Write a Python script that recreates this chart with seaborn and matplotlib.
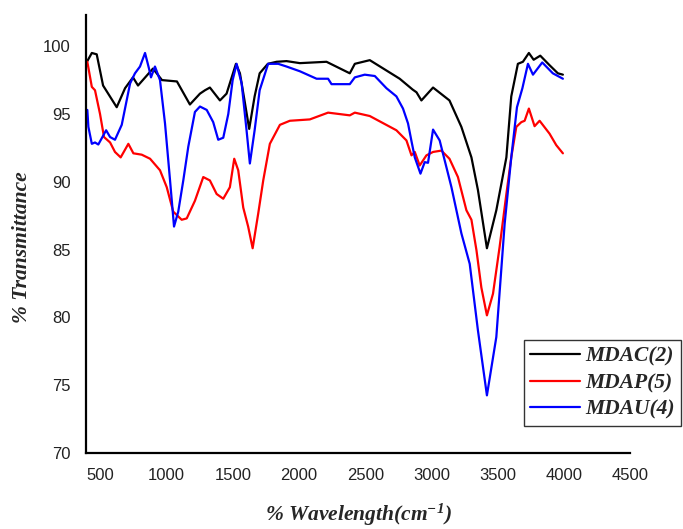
import pandas as pd
import seaborn as sns
import matplotlib.pyplot as plt

# FT-IR spectra
mdac_x = [400, 434, 471, 519, 622, 685, 745, 783, 896, 964, 1077, 1175, 1251, 1289,
          1326, 1402, 1452, 1523, 1553, 1591, 1623, 1664, 1702, 1764, 1830, 1905,
          2006, 2207, 2383, 2421, 2534, 2760, 2858, 2887, 2924, 3012, 3136, 3226,
          3302, 3351, 3419, 3490, 3566, 3603, 3653, 3691, 3736, 3772, 3822, 3892,
          3955, 3993]
mdac_y = [98.9, 99.5, 99.4, 97.1, 95.5, 96.9, 97.7, 97.1, 98.35, 97.5, 97.4, 95.7, 96.5, 96.75,
          96.95, 96.0, 96.5, 98.7, 98.0, 95.8, 93.9, 96.3, 98.0, 98.7, 98.85, 98.9,
          98.75, 98.85, 98.0, 98.7, 98.97, 97.6, 96.8, 96.6, 96.0, 96.95, 96.0, 94.05,
          91.8, 89.4, 85.1, 87.9, 91.8, 96.3, 98.7, 98.85, 99.5, 99.0, 99.3, 98.6,
          98.0, 97.9]

mdap_x = [400, 434, 458, 496, 526, 572, 609, 652, 710, 748, 811, 874, 949, 1000, 1049,
          1113, 1151, 1213, 1276, 1326, 1377, 1427, 1477, 1510, 1540, 1578, 1615, 1649,
          1691, 1729, 1779, 1855, 1930, 2081, 2219, 2383, 2421, 2534, 2735, 2811, 2849,
          2874, 2911, 2962, 3012, 3075, 3136, 3200, 3264, 3302, 3340, 3377, 3419, 3465,
          3515, 3566, 3603, 3641, 3679, 3704, 3736, 3779, 3817, 3892, 3943, 3993]
mdap_y = [98.85, 97.0, 96.75, 95.0, 93.3, 92.9, 92.2, 91.8, 92.8, 92.1, 92.0, 91.7, 90.85, 89.6, 87.8,
          87.2, 87.3, 88.6, 90.35, 90.1, 89.1, 88.75, 89.6, 91.7, 90.85, 88.1, 86.7, 85.1,
          87.65, 90.1, 92.8, 94.2, 94.5, 94.6, 95.1, 94.9, 95.1, 94.85, 93.8, 93.05, 91.95,
          92.2, 91.2, 91.95, 92.2, 92.3, 91.7, 90.35, 87.9, 87.2, 84.95, 82.2, 80.15, 81.75,
          85.2, 89.1, 91.8, 94.05, 94.4, 94.5, 95.4, 94.1, 94.5, 93.55, 92.7, 92.1]

mdau_x = [400, 408, 434, 458, 483, 542, 572, 609, 660, 723, 760, 798, 836, 866, 881, 911,
          949, 987, 1025, 1055, 1087, 1125, 1163, 1213, 1251, 1302, 1351, 1389, 1427,
          1465, 1498, 1528, 1566, 1603, 1628, 1664, 1702, 1766, 1842, 1905, 2006, 2132,
          2219, 2245, 2383, 2421, 2496, 2572, 2660, 2735, 2785, 2823, 2849, 2874, 2917,
          2949, 2974, 3012, 3062, 3151, 3226, 3289, 3351, 3419, 3490, 3553, 3603, 3646,
          3687, 3729, 3767, 3837, 3917, 3993]
mdau_y = [95.3, 94.05, 92.8, 92.9, 92.75, 93.8, 93.3, 93.1, 94.2, 97.25, 98.0, 98.5, 99.5, 98.35, 97.7, 98.5,
          97.5, 94.3, 90.1, 86.7, 87.8, 90.1, 92.6, 95.15, 95.55, 95.3, 94.4, 93.1, 93.25,
          95.0, 97.5, 98.7, 97.25, 93.8, 91.35, 93.8, 96.75, 98.7, 98.7, 98.5, 98.15, 97.6,
          97.6, 97.2, 97.2, 97.7, 97.9, 97.8, 96.9, 96.3, 95.4, 94.3, 93.0, 91.8, 90.6,
          91.45, 91.4, 93.85, 93.05, 89.6, 86.2, 83.95, 79.05, 74.25, 78.55, 86.9, 91.8, 95.5,
          96.9, 98.7, 97.9, 98.8, 98.0, 97.6]

series_names = ["MDAC(2)", "MDAP(5)", "MDAU(4)"]
series_colors = ["black", "red", "blue"]

df = pd.concat([
    pd.DataFrame({"wavelength": mdac_x, "transmittance": mdac_y, "sample": series_names[0]}),
    pd.DataFrame({"wavelength": mdap_x, "transmittance": mdap_y, "sample": series_names[1]}),
    pd.DataFrame({"wavelength": mdau_x, "transmittance": mdau_y, "sample": series_names[2]}),
])

sns.set_style("white")
plt.rcParams['font.family'] = ['Liberation Sans', 'DejaVu Sans']
plt.rcParams['mathtext.default'] = 'regular'

fig = plt.figure(figsize=(6.83, 5.29), dpi=100)
ax = fig.add_axes([86 / 683, 1 - 453 / 529, 544 / 683, 438 / 529])

sns.lineplot(data=df, x="wavelength", y="transmittance", hue="sample",
             hue_order=series_names, palette=series_colors, estimator=None,
             sort=False, linewidth=1.6, ax=ax)

ax.set_xlim(390, 4500)
ax.set_ylim(70, 102.3)
ax.set_xticks(range(500, 4501, 500))
ax.set_yticks(range(70, 101, 5))
ax.tick_params(length=0, labelsize=12, colors='#222222', pad=11)

for side in ["top", "right"]:
    ax.spines[side].set_visible(False)
for side in ["left", "bottom"]:
    ax.spines[side].set_color("black")
    ax.spines[side].set_linewidth(1.6)

label_font = dict(family='Liberation Serif', weight='bold', style='italic', size=15.5)
ax.set_xlabel("% Wavelength(cm$^{-1}$)", **label_font)
ax.set_ylabel("% Transmittance", **label_font)
ax.xaxis.set_label_coords(0.5, -0.112)
ax.yaxis.set_label_coords(-0.1, 0.471)

handles, labels = ax.get_legend_handles_labels()
leg = ax.legend(handles, labels, loc="upper left",
                bbox_to_anchor=(524 / 683, 1 - 340 / 529), bbox_transform=fig.transFigure,
                prop=dict(family='Liberation Serif', weight='bold', style='italic', size=15.5),
                frameon=True, fancybox=False, edgecolor='#333333', framealpha=1,
                handlelength=2.3, handletextpad=0.25, labelspacing=0.3, borderpad=0.3,
                borderaxespad=0)
leg.get_frame().set_linewidth(1.0)
for line in leg.get_lines():
    line.set_linewidth(1.6)

fig.savefig("out.png", dpi=100)
